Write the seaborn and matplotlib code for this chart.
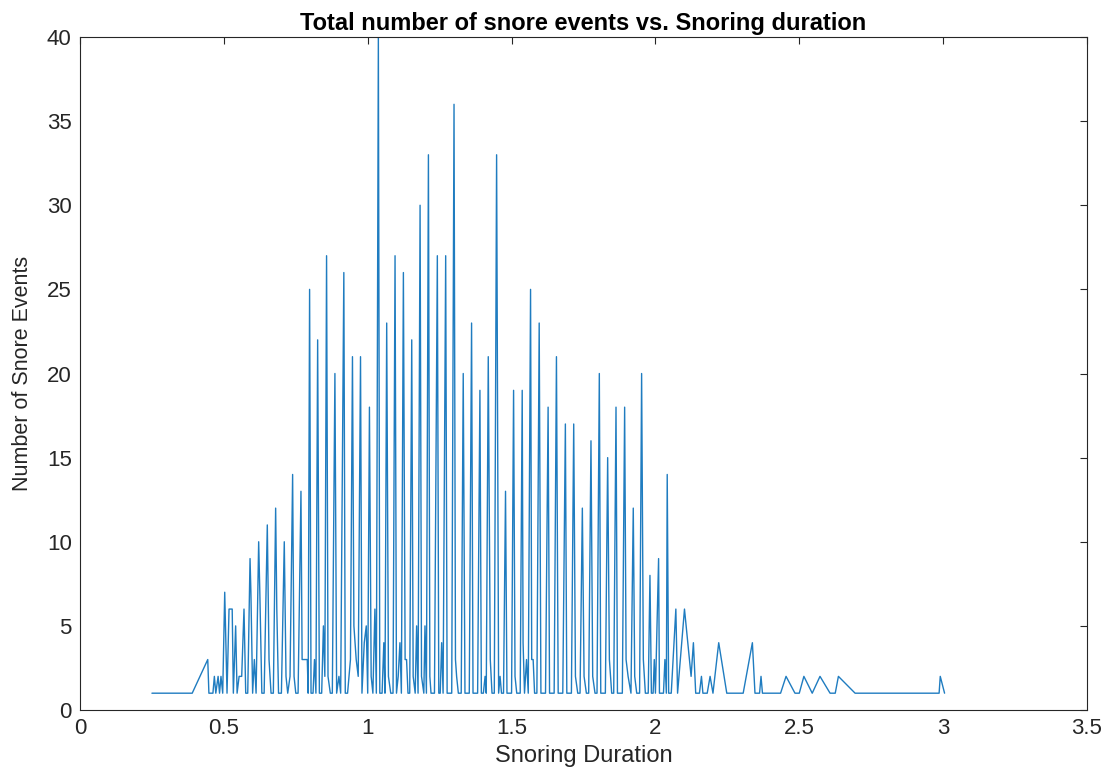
import matplotlib
matplotlib.use("Agg")
import matplotlib.pyplot as plt
import seaborn as sns
import pandas as pd

# Snoring duration (x) and number of snore events (y)
duration = [
    0.25, 0.39, 0.444, 0.448, 0.462, 0.467, 0.472, 0.48, 0.485, 0.49, 0.496,
    0.503, 0.511, 0.518, 0.529, 0.533, 0.537, 0.541, 0.546, 0.553, 0.562,
    0.570, 0.576, 0.583, 0.591, 0.594, 0.600, 0.606, 0.612, 0.621, 0.625,
    0.632, 0.640, 0.651, 0.657, 0.664, 0.672, 0.680, 0.684, 0.690, 0.700,
    0.710, 0.716, 0.722, 0.730, 0.739, 0.744, 0.750, 0.758, 0.768, 0.772,
    0.790, 0.793, 0.798, 0.803, 0.810, 0.815, 0.820, 0.826, 0.832, 0.840,
    0.846, 0.851, 0.857, 0.862, 0.870, 0.877, 0.886, 0.892, 0.900, 0.906,
    0.917, 0.922, 0.930, 0.940, 0.947, 0.952, 0.960, 0.967, 0.975, 0.980,
    0.988, 0.995, 1.000, 1.006, 1.012, 1.018, 1.025, 1.030, 1.037, 1.042,
    1.050, 1.056, 1.060, 1.066, 1.072, 1.080, 1.088, 1.095, 1.100, 1.106,
    1.112, 1.117, 1.124, 1.130, 1.135, 1.140, 1.146, 1.153, 1.158, 1.165,
    1.170, 1.175, 1.182, 1.187, 1.195, 1.199, 1.204, 1.211, 1.216, 1.220,
    1.225, 1.232, 1.242, 1.247, 1.252, 1.257, 1.262, 1.271, 1.276, 1.285,
    1.292, 1.300, 1.305, 1.309, 1.315, 1.325, 1.332, 1.338, 1.346, 1.353,
    1.361, 1.366, 1.374, 1.382, 1.390, 1.395, 1.402, 1.408, 1.412, 1.419,
    1.426, 1.432, 1.440, 1.448, 1.455, 1.460, 1.465, 1.472, 1.479, 1.484,
    1.492, 1.500, 1.507, 1.512, 1.518, 1.524, 1.530, 1.537, 1.540, 1.545,
    1.552, 1.558, 1.566, 1.570, 1.575, 1.580, 1.588, 1.596, 1.602, 1.610,
    1.618, 1.627, 1.632, 1.640, 1.648, 1.656, 1.662, 1.670, 1.678, 1.687,
    1.692, 1.700, 1.708, 1.716, 1.722, 1.730, 1.738, 1.746, 1.752, 1.760,
    1.768, 1.776, 1.782, 1.790, 1.797, 1.805, 1.810, 1.818, 1.826, 1.834,
    1.840, 1.848, 1.855, 1.863, 1.868, 1.876, 1.885, 1.893, 1.898, 1.905,
    1.915, 1.923, 1.928, 1.935, 1.945, 1.952, 1.958, 1.965, 1.975, 1.981,
    1.986, 1.992, 1.996, 2.000, 2.011, 2.014, 2.020, 2.028, 2.033, 2.038,
    2.041, 2.046, 2.055, 2.071, 2.077, 2.101, 2.124, 2.132, 2.140, 2.153,
    2.160, 2.165, 2.180, 2.190, 2.200, 2.220, 2.248, 2.305, 2.337, 2.346,
    2.362, 2.367, 2.372, 2.435, 2.454, 2.485, 2.500, 2.516, 2.545, 2.572,
    2.607, 2.625, 2.636, 2.694, 2.986, 2.990, 3.005,
]
events = [
    1, 1, 3, 1, 1, 2, 1, 2, 1, 2, 1,
    7, 1, 6, 6, 1, 3, 5, 1, 2, 2,
    6, 1, 1, 9, 7, 1, 3, 1, 10, 7,
    1, 1, 11, 3, 1, 1, 12, 6, 1, 1,
    10, 2, 1, 2, 14, 2, 1, 1, 13, 3,
    3, 1, 25, 1, 1, 3, 1, 22, 1, 1,
    5, 2, 27, 2, 1, 1, 20, 1, 2, 1,
    26, 1, 1, 3, 21, 5, 3, 2, 21, 1,
    4, 5, 1, 18, 2, 1, 6, 1, 40, 1,
    1, 4, 1, 23, 2, 1, 1, 27, 1, 2,
    4, 1, 26, 3, 3, 1, 1, 22, 2, 1,
    5, 1, 30, 2, 1, 5, 1, 33, 2, 1,
    1, 1, 27, 1, 1, 4, 1, 27, 1, 1,
    1, 36, 3, 2, 1, 1, 20, 1, 1, 1,
    23, 1, 1, 1, 19, 1, 1, 2, 1, 21,
    3, 1, 1, 33, 1, 2, 1, 1, 13, 1,
    1, 1, 19, 2, 1, 1, 1, 19, 4, 1,
    3, 1, 25, 3, 3, 1, 1, 23, 1, 1,
    1, 18, 1, 1, 1, 21, 1, 1, 1, 17,
    1, 1, 1, 17, 2, 1, 1, 12, 2, 1,
    1, 16, 2, 1, 1, 20, 1, 1, 1, 15,
    3, 1, 1, 18, 1, 1, 1, 18, 3, 2,
    1, 12, 2, 1, 1, 20, 3, 1, 1, 8,
    1, 1, 3, 1, 9, 1, 1, 1, 3, 1,
    14, 1, 1, 6, 1, 6, 2, 4, 1, 1,
    2, 1, 1, 2, 1, 4, 1, 1, 4, 1,
    1, 2, 1, 1, 2, 1, 1, 2, 1, 2,
    1, 1, 2, 1, 1, 2, 1,
]

x_ticks = [0, 0.5, 1, 1.5, 2, 2.5, 3, 3.5]
x_tick_labels = ["0", "0.5", "1", "1.5", "2", "2.5", "3", "3.5"]
y_ticks = [0, 5, 10, 15, 20, 25, 30, 35, 40]

df = pd.DataFrame({"Snoring Duration": duration, "Number of Snore Events": events})

sns.set_style("white")
plt.rcParams["font.family"] = ["Liberation Sans", "DejaVu Sans"]

fig = plt.figure(figsize=(11.05, 7.69), dpi=100)
ax = fig.add_axes([0.0724, 0.0767, 0.9113, 0.8752])

sns.lineplot(data=df, x="Snoring Duration", y="Number of Snore Events",
             estimator=None, sort=False, color="#1f7cc0", linewidth=1.0, ax=ax)

ax.set_xlim(0, 3.5)
ax.set_ylim(0, 40)
ax.set_xticks(x_ticks)
ax.set_xticklabels(x_tick_labels)
ax.set_yticks(y_ticks)
ax.tick_params(direction="in", top=True, right=True, length=5, width=0.8,
               labelsize=16, colors="#262626", pad=6)
for s in ax.spines.values():
    s.set_color("#262626")
    s.set_linewidth(0.8)
ax.set_xlabel("Snoring Duration", fontsize=17, color="#262626", labelpad=4)
ax.set_ylabel("Number of Snore Events", fontsize=15.5, color="#262626", labelpad=10)
ax.set_title("Total number of snore events vs. Snoring duration",
             fontsize=17, fontweight="bold", color="black", pad=5)

fig.savefig("out.png", dpi=100)
